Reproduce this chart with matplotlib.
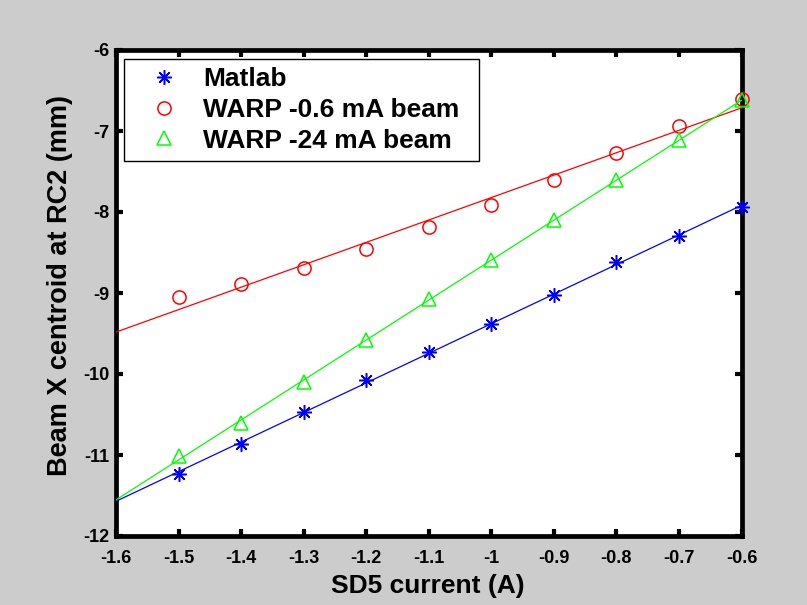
import numpy as np
import matplotlib
matplotlib.use("Agg")
import matplotlib.pyplot as plt

plt.rcParams['font.family'] = ['Liberation Sans', 'DejaVu Sans']
plt.rcParams['font.weight'] = 'bold'

# ---- data ----
sd5_current = [-1.5, -1.4, -1.3, -1.2, -1.1, -1.0, -0.9, -0.8, -0.7, -0.6]
matlab = [-11.23, -10.86, -10.47, -10.07, -9.73, -9.38, -9.02, -8.62, -8.30, -7.94]
warp_06 = [-9.05, -8.89, -8.69, -8.46, -8.19, -7.91, -7.60, -7.27, -6.94, -6.60]
warp_24 = [-11.01, -10.61, -10.10, -9.58, -9.08, -8.59, -8.10, -7.61, -7.11, -6.62]
fit_range = [-1.6, -0.6]

xticks = [-1.6, -1.5, -1.4, -1.3, -1.2, -1.1, -1.0, -0.9, -0.8, -0.7, -0.6]
xtick_labels = ['-1.6', '-1.5', '-1.4', '-1.3', '-1.2', '-1.1', '-1', '-0.9', '-0.8', '-0.7', '-0.6']
yticks = [-12, -11, -10, -9, -8, -7, -6]
ytick_labels = ['-12', '-11', '-10', '-9', '-8', '-7', '-6']

series = [
    ("Matlab", matlab, (0, 0, 1), (8, 2, 0), 10.5),
    ("WARP -0.6 mA beam", warp_06, (1, 0, 0), 'o', 9.5),
    ("WARP -24 mA beam", warp_24, (0, 1, 0), '^', 10.5),
]

W, H = 807, 605
fig = plt.figure(figsize=(W / 100, H / 100), dpi=100, facecolor='#cccccc')
L, R, T, B = 116, 741.5, 50, 536
ax = fig.add_axes([L / W, 1 - B / H, (R - L) / W, (B - T) / H])
ax.set_facecolor('white')

xs = np.array(sd5_current)
xf = np.array(fit_range)
handles = []
for name, ys, col, mk, ms in series:
    p = np.polyfit(xs, np.array(ys), 1)
    ax.plot(xf, np.polyval(p, xf), color=col, lw=0.9, zorder=3)
    h, = ax.plot(xs, ys, linestyle='none', marker=mk, ms=ms, mfc='none',
                 mec=col, mew=1.1, color=col, clip_on=False, zorder=5, label=name)
    handles.append(h)

ax.set_xlim(-1.6, -0.6)
ax.set_ylim(-12, -6)
ax.set_xticks(xticks)
ax.set_xticklabels(xtick_labels)
ax.set_yticks(yticks)
ax.set_yticklabels(ytick_labels)

for s in ax.spines.values():
    s.set_linewidth(3.4)
    s.set_color('black')
ax.tick_params(direction='in', length=5, width=3, top=True, right=True,
               labelsize=13)
ax.tick_params(axis='x', pad=10)
ax.tick_params(axis='y', pad=5)
for lab in ax.get_xticklabels() + ax.get_yticklabels():
    lab.set_fontweight('bold')

fig.text(428 / W, 1 - 586 / H, 'SD5 current (A)', ha='center', va='center',
         fontsize=19, fontweight='bold')
fig.text(60 / W, 1 - 285 / H, 'Beam X centroid at RC2 (mm)', ha='center', va='center',
         rotation=90, fontsize=19.5, fontweight='bold')

lx0 = (124 - L) / (R - L)
lw_ = (479 - 124) / (R - L)
ly1 = (B - 59) / (B - T)
lh = (156 - 59) / (B - T)
leg = ax.legend(handles=handles, loc='upper left',
                bbox_to_anchor=(lx0, ly1 - lh, lw_, lh), mode='expand',
                borderaxespad=0, frameon=True, fancybox=False, framealpha=1,
                edgecolor='black', prop={'size': 19, 'weight': 'bold'},
                handlelength=2.4, handletextpad=0.3, labelspacing=0.26,
                borderpad=0.3, numpoints=1)
leg.get_frame().set_linewidth(1.0)
leg.set_zorder(6)

fig.savefig('out.png', dpi=100, facecolor=fig.get_facecolor())
